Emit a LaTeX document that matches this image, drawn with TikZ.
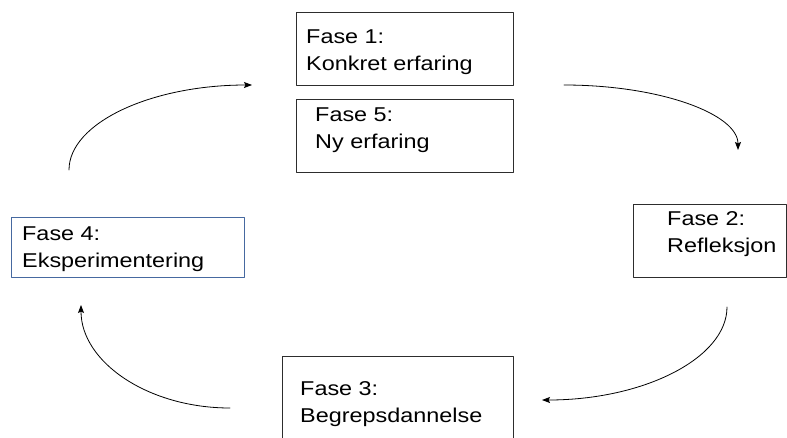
\documentclass[tikz,border=0pt]{standalone}
\usepackage{fontspec}
\setmainfont{Liberation Sans}[FakeStretch=1.17]
\usetikzlibrary{positioning,arrows.meta}
\definecolor{boxgray}{RGB}{45,45,45}
\definecolor{boxblue}{RGB}{70,105,160}
\tikzset{
  fase/.style={draw=boxgray, line width=.9pt, inner sep=0pt, anchor=north west},
  fasetext/.style={align=left, inner sep=0pt, anchor=north west},
}
\begin{document}
\begin{tikzpicture}[x=1pt, y=-1pt, font=\fontsize{20}{26.5}\selectfont, line join=round, line cap=round, >={Stealth[length=8pt,width=6pt,inset=1.5pt]}]
		\clip(0,0)rectangle(787,437);
		\node[fase, minimum width=217pt, minimum height=73pt](f1)at(296,12){};
		\node[fase, minimum width=217pt, minimum height=73pt, below=13pt of f1](f5){};
		\node[fase, minimum width=153pt, minimum height=73pt](f2)at(633,204){};
		\node[fase, minimum width=231pt, minimum height=100pt](f3)at(282,356){};
		\node[fase, draw=boxblue, minimum width=233pt, minimum height=60pt](f4)at(11,217){};
		\node[fasetext](t1)at(306,29.7){Fase 1:\\Konkret erfaring};
		\node[fasetext](t5)at(315,108){Fase 5:\\Ny erfaring};
		\node[fasetext](t2)at(667,211.7){Fase 2:\\Refleksjon};
		\node[fasetext](t3)at(300,381.7){Fase 3:\\Begrepsdannelse};
		\node[fasetext](t4)at(22,227){Fase 4:\\Eksperimentering};
		\coordinate(a1)at(69,170);\coordinate(b1)at(252,85);
		\coordinate(a2)at(564,85);\coordinate(b2)at(738,150);
		\coordinate(a3)at(727,307);\coordinate(b3)at(542,400);
		\coordinate(a4)at(230,408);\coordinate(b4)at(81,305);
		\draw[->, line width=.8pt](a1).. controls +(0,-47) and +(-101,0) ..(b1);
		\draw[->, line width=.8pt](a2).. controls +(96,0) and +(0,-36) ..(b2);
		\draw[->, line width=.8pt](a3).. controls +(0,51) and +(102,0) ..(b3);
		\draw[->, line width=.8pt](a4).. controls +(-82,0) and +(0,57) ..(b4);
		
	\end{tikzpicture}
\end{document}
